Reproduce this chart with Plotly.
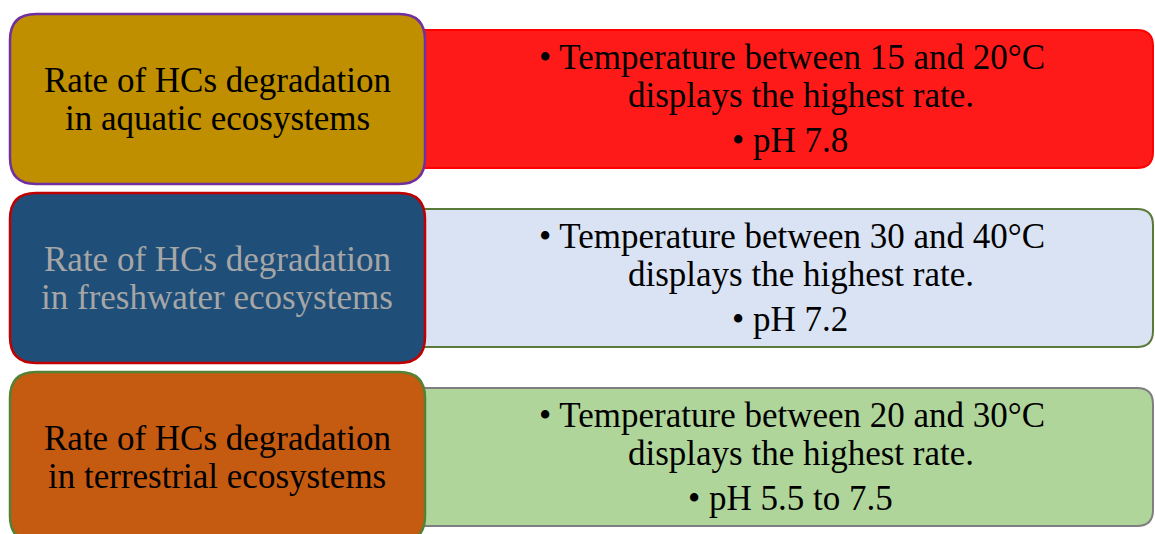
import plotly.graph_objects as go

# ---- content ----
ecosystems = ["aquatic", "freshwater", "terrestrial"]
left_lines = [
    ["Rate of HCs degradation", "in aquatic ecosystems"],
    ["Rate of HCs degradation", "in freshwater ecosystems"],
    ["Rate of HCs degradation", "in terrestrial ecosystems"],
]
temp_lines = [
    ["• Temperature between 15 and 20°C", "displays the highest rate."],
    ["• Temperature between 30 and 40°C", "displays the highest rate."],
    ["• Temperature between 20 and 30°C", "displays the highest rate."],
]
ph_lines = ["• pH 7.8", "• pH 7.2", "• pH 5.5 to 7.5"]

# ---- styles ----
left_fill = ["#bf8f00", "#1f4e79", "#c55a11"]
left_border = ["#7030a0", "#c00000", "#548235"]
left_text = ["#000000", "#a6a6a6", "#000000"]
right_fill = ["#ff1a1a", "#dae3f3", "#b0d59a"]
right_border = ["#ff0000", "#5a7a3a", "#7f7f7f"]

W, H = 1155, 534
FONT = "Liberation Serif"
FS = 35


def rrect(x0, y0, x1, y1, r):
    # y grows downward (axis reversed)
    return (f"M {x0+r},{y0} L {x1-r},{y0} Q {x1},{y0} {x1},{y0+r} "
            f"L {x1},{y1-r} Q {x1},{y1} {x1-r},{y1} L {x0+r},{y1} "
            f"Q {x0},{y1} {x0},{y1-r} L {x0},{y0+r} Q {x0},{y0} {x0+r},{y0} Z")


fig = go.Figure()
shapes, annotations = [], []
row_top = [14, 193, 372]
for i in range(len(ecosystems)):
    t = row_top[i]
    # right panel
    shapes.append(dict(type="path", path=rrect(400, t + 16, 1153, t + 154, 16),
                       fillcolor=right_fill[i], line=dict(color=right_border[i], width=2),
                       xref="x", yref="y", layer="above"))
    # left box
    shapes.append(dict(type="path", path=rrect(10, t, 425, t + 170, 26),
                       fillcolor=left_fill[i], line=dict(color=left_border[i], width=2.5),
                       xref="x", yref="y", layer="above"))
    for j, line in enumerate(left_lines[i]):
        annotations.append(dict(x=217, y=t + 66 + 38 * j, text=line, showarrow=False,
                                xref="x", yref="y", xanchor="center", yanchor="middle",
                                font=dict(family=FONT, size=FS, color=left_text[i])))
    for j, line in enumerate(temp_lines[i]):
        annotations.append(dict(x=792 if j == 0 else 801, y=t + 43 + 38 * j, text=line,
                                showarrow=False, xref="x", yref="y",
                                xanchor="center", yanchor="middle",
                                font=dict(family=FONT, size=FS, color="#000000")))
    annotations.append(dict(x=790, y=t + 126, text=ph_lines[i], showarrow=False,
                            xref="x", yref="y", xanchor="center", yanchor="middle",
                            font=dict(family=FONT, size=FS, color="#000000")))

fig.update_layout(
    width=W, height=H, margin=dict(l=0, r=0, t=0, b=0),
    paper_bgcolor="white", plot_bgcolor="white",
    xaxis=dict(range=[0, W], visible=False, fixedrange=True),
    yaxis=dict(range=[H, 0], visible=False, fixedrange=True),
    shapes=shapes, annotations=annotations, showlegend=False,
)
fig.write_html("out.html", config={"displayModeBar": False},
               post_script="document.body.style.margin='0';document.body.style.overflow='hidden';")
